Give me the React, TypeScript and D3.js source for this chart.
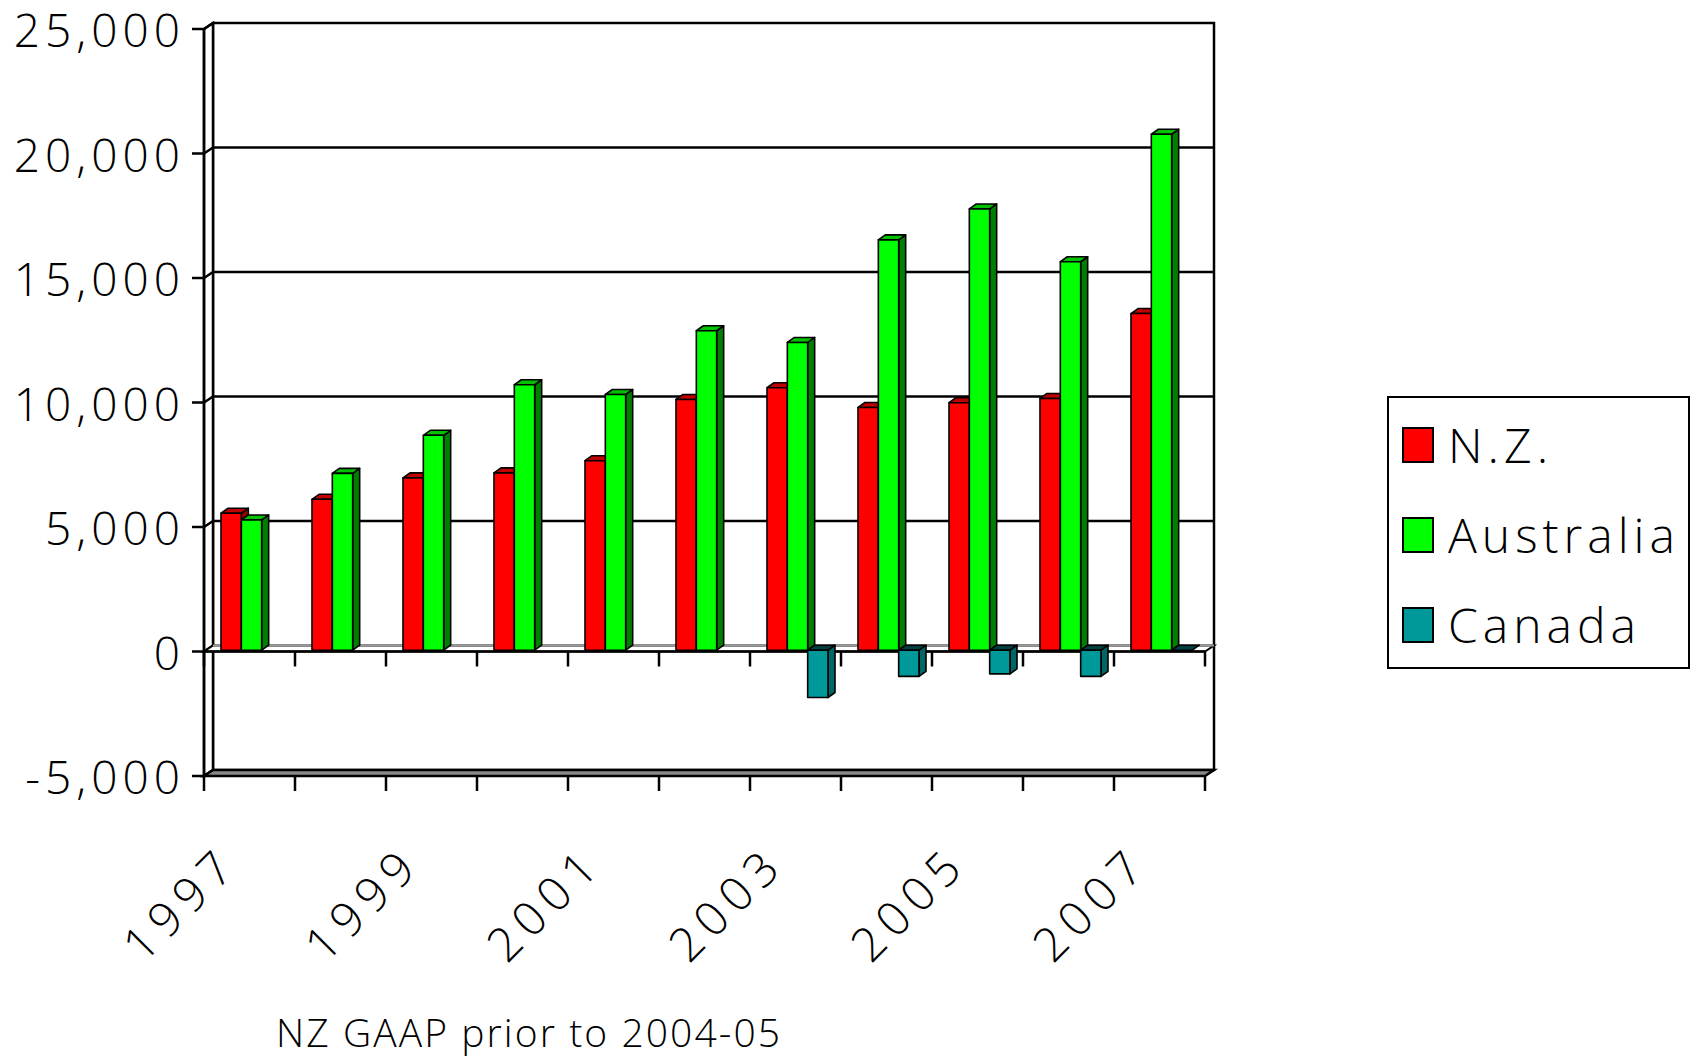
import React from "react";
import { scaleBand, scaleLinear, formatLocale } from "d3";

const years = ["1997", "1998", "1999", "2000", "2001", "2002", "2003", "2004", "2005", "2006", "2007"];
const series = ["N.Z.", "Australia", "Canada"];
const nzValues = [5500, 6060, 6920, 7120, 7610, 10070, 10540, 9750, 9940, 10110, 13520];
const auValues = [5230, 7100, 8630, 10660, 10270, 12830, 12360, 16480, 17720, 15600, 20720];
const caValues = [null, null, null, null, null, null, -1900, -1050, -950, -1050, 0];
const yTicks = [-5000, 0, 5000, 10000, 15000, 20000, 25000];
const xLabels = ["1997", "1999", "2001", "2003", "2005", "2007"];
const subtitle = "NZ GAAP prior to 2004-05";

const colors = [
  { front: "#FF0000", top: "#C00000", side: "#990000" },
  { front: "#00FF00", top: "#00C000", side: "#008000" },
  { front: "#009999", top: "#003F3F", side: "#006666" },
];

const width = 1697;
const height = 1058;
const font = "'Open Sans', 'DejaVu Sans', sans-serif";

// depth offsets of the back wall and of bar boxes
const wallDx = 9;
const wallDy = -6;
const barDx = 7;
const barDy = -5;

const fmt = formatLocale({ decimal: ".", thousands: ",", grouping: [3], currency: ["$", ""], minus: "-" }).format(",");

export default function App() {
  const x = scaleBand<string>().domain(years).range([204, 1205]);
  const inner = scaleBand<string>().domain(series).range([17, 78]);
  const y = scaleLinear().domain([-5000, 25000]).range([776, 29]);
  const yBar = (v: number) => y(v) - 1.3;

  const left = x.range()[0];
  const right = x.range()[1];
  const top = y(25000);
  const bottom = y(-5000);
  const zero = y(0);

  const allValues = [nzValues, auValues, caValues];

  const bar = (xi: number, v: number, c: typeof colors[0], key: string) => {
    const w = inner.bandwidth();
    const yt = Math.min(yBar(v), yBar(0));
    const yb = Math.max(yBar(v), yBar(0));
    const topFace = `M${xi},${yt}L${xi + barDx},${yt + barDy}L${xi + w + barDx},${yt + barDy}L${xi + w},${yt}Z`;
    const sideFace = `M${xi + w},${yt}L${xi + w + barDx},${yt + barDy}L${xi + w + barDx},${yb + barDy}L${xi + w},${yb}Z`;
    return (
      <g key={key} stroke="#000" strokeWidth={1.6} strokeLinejoin="round">
        <path d={sideFace} fill={c.side} />
        <path d={topFace} fill={c.top} />
        {yb - yt > 0.5 && <rect x={xi} y={yt} width={w} height={yb - yt} fill={c.front} />}
      </g>
    );
  };

  return (
    <svg width={width} height={height} style={{ position: "absolute", left: 0, top: 0, background: "#fff" }}>
      {/* back wall */}
      <rect x={left + wallDx} y={top + wallDy} width={right - left} height={bottom - top} fill="#fff" stroke="#000" strokeWidth={2.5} />
      {/* left wall */}
      <path
        d={`M${left},${top}L${left + wallDx},${top + wallDy}L${left + wallDx},${bottom + wallDy}L${left},${bottom}Z`}
        fill="#fff"
        stroke="#000"
        strokeWidth={2.5}
      />
      {/* gridlines on walls and y ticks */}
      {yTicks.map((t) => (
        <g key={t} stroke="#000" strokeWidth={2.5} fill="none">
          {t !== 25000 && t !== -5000 && t !== 0 && (
            <line x1={left + wallDx} x2={right + wallDx} y1={y(t) + wallDy} y2={y(t) + wallDy} />
          )}
          <path d={`M${left - 12},${y(t)}L${left},${y(t)}L${left + wallDx},${y(t) + wallDy}`} />
        </g>
      ))}
      {/* floor at the bottom */}
      <path
        d={`M${left},${bottom}L${left + wallDx},${bottom + wallDy}L${right + wallDx},${bottom + wallDy}L${right},${bottom}Z`}
        fill="#888"
        stroke="#000"
        strokeWidth={2.5}
      />
      {/* zero plane */}
      <path
        d={`M${left},${zero}L${left + wallDx},${zero + wallDy}L${right + wallDx},${zero + wallDy}L${right},${zero}Z`}
        fill="#fff"
        stroke="#000"
        strokeWidth={2}
      />
      <line x1={left + wallDx} x2={right + wallDx} y1={zero + wallDy} y2={zero + wallDy} stroke="#999" strokeWidth={2} />
      <line x1={left} x2={right} y1={zero} y2={zero} stroke="#000" strokeWidth={2.5} />
      {/* front y axis */}
      <line x1={left} x2={left} y1={top} y2={bottom} stroke="#000" strokeWidth={2.5} />
      {/* x ticks */}
      {[...years, "end"].map((yr, i) => {
        const xt = left + i * x.step();
        return (
          <g key={yr} stroke="#000" strokeWidth={2.5}>
            <line x1={xt} x2={xt} y1={zero} y2={zero + 15} />
            <line x1={xt} x2={xt} y1={bottom} y2={bottom + 15} />
          </g>
        );
      })}
      {/* bars */}
      {years.map((yr, i) => (
        <g key={yr}>
          {series.map((s, k) => {
            const v = allValues[k][i];
            if (v === null || v === undefined) return null;
            return bar((x(yr) as number) + (inner(s) as number), v, colors[k], s);
          })}
        </g>
      ))}
      {/* y tick labels */}
      {yTicks.map((t) => (
        <text
          key={t}
          x={185}
          y={y(t)}
          textAnchor="end"
          dominantBaseline="central"
          fontFamily={font}
          fontSize={46}
          letterSpacing={5}
          fontWeight={300}
          fill="#000"
        >
          {fmt(t)}
        </text>
      ))}
      {/* x labels */}
      {xLabels.map((l) => {
        const cx = (x(l) as number) + x.bandwidth() / 2 - 8;
        return (
          <text
            key={l}
            transform={`translate(${cx},866) rotate(-45)`}
            textAnchor="end"
            fontFamily={font}
            fontSize={47}
            letterSpacing={8}
            fontWeight={300}
            fill="#000"
          >
            {l}
          </text>
        );
      })}
      {/* subtitle */}
      <text x={276} y={1047} fontFamily={font} fontSize={39} fontWeight={300} textLength={504} lengthAdjust="spacing" fill="#000">
        {subtitle}
      </text>
      {/* legend */}
      <rect x={1388} y={397} width={301} height={271} fill="#fff" stroke="#000" strokeWidth={2} />
      {series.map((s, k) => (
        <g key={s}>
          <rect x={1403} y={428 + k * 90} width={30} height={34} fill={colors[k].front} stroke="#000" strokeWidth={2} />
          <text x={1448} y={463 + k * 90} fontFamily={font} fontSize={48} fontWeight={300} letterSpacing={5} fill="#000">
            {s}
          </text>
        </g>
      ))}
    </svg>
  );
}
